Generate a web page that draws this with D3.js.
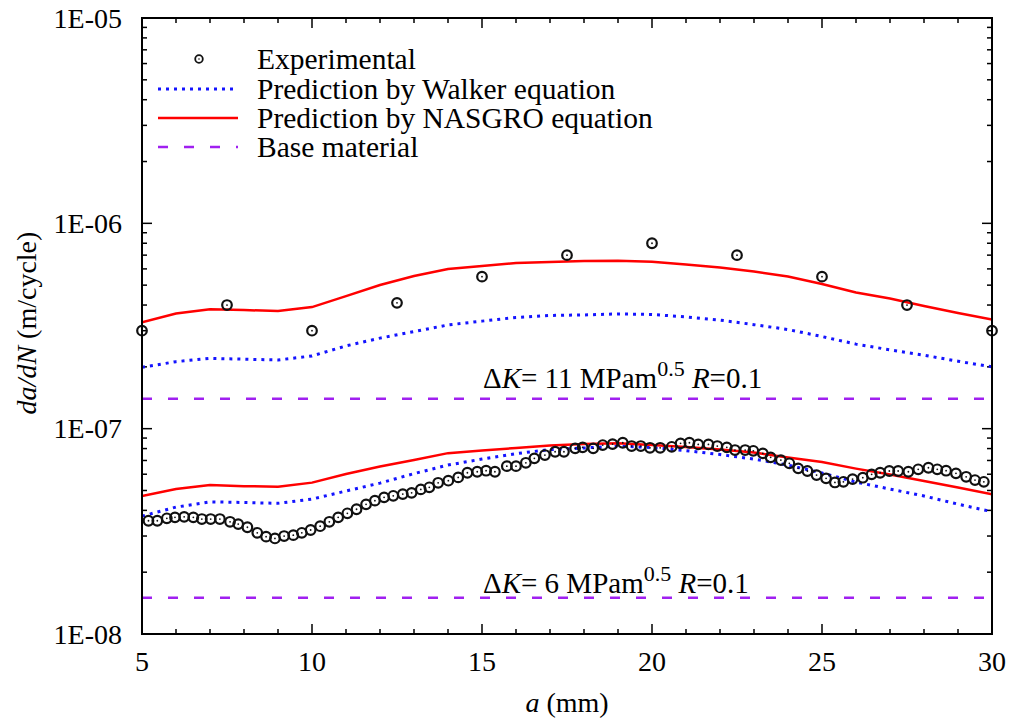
<!DOCTYPE html>
<html lang="en">
<head>
<meta charset="UTF-8">
<title>da/dN vs a</title>
<style>
  body { margin: 0; background: #fff; }
  svg text { font-family: "Liberation Serif", "Times New Roman", serif; fill: #000; }
</style>
</head>
<body>
<svg id="chart" width="1014" height="726"></svg>
<script src="https://d3js.org/d3.v7.min.js"></script>
<script>
// ---- data ----
const xTickValues = [5, 10, 15, 20, 25, 30];
const yTickValues = [1e-5, 1e-6, 1e-7, 1e-8];
const yTickLabels = ["1E-05", "1E-06", "1E-07", "1E-08"];

const legendLabels = ["Experimental", "Prediction by Walker equation",
                      "Prediction by NASGRO equation", "Base material"];

// predictions are given every 1 mm
const predA = [5, 6, 7, 8, 9, 10, 11, 12, 13, 14, 15, 16, 17, 18, 19, 20,
               21, 22, 23, 24, 25, 26, 27, 28, 29, 30];

// dK = 11 MPa m^0.5
const hiExpA = [5, 7.5, 10, 12.5, 15, 17.5, 20, 22.5, 25, 27.5, 30];
const hiExpRate = [3.0e-7, 4.0e-7, 3.0e-7, 4.1e-7, 5.5e-7, 7.0e-7, 8.0e-7,
                   7.0e-7, 5.5e-7, 4.0e-7, 3.0e-7];
const hiWalker = [1.99e-7, 2.12e-7, 2.20e-7, 2.18e-7, 2.16e-7, 2.26e-7, 2.53e-7,
                  2.76e-7, 2.97e-7, 3.20e-7, 3.34e-7, 3.48e-7, 3.56e-7, 3.58e-7,
                  3.62e-7, 3.60e-7, 3.50e-7, 3.38e-7, 3.21e-7, 3.04e-7, 2.81e-7,
                  2.58e-7, 2.42e-7, 2.28e-7, 2.13e-7, 2.00e-7];
const hiNasgro = [3.30e-7, 3.64e-7, 3.82e-7, 3.78e-7, 3.74e-7, 3.91e-7, 4.42e-7,
                  5.01e-7, 5.54e-7, 5.99e-7, 6.19e-7, 6.41e-7, 6.48e-7, 6.55e-7,
                  6.57e-7, 6.50e-7, 6.30e-7, 6.09e-7, 5.82e-7, 5.51e-7, 5.06e-7,
                  4.60e-7, 4.30e-7, 3.96e-7, 3.66e-7, 3.40e-7];
const hiBase = 1.4e-7;

// dK = 6 MPa m^0.5
const loExpA = [5.19, 5.45, 5.73, 5.97, 6.24, 6.51, 6.76, 7.02, 7.29, 7.59, 7.83,
                8.10, 8.39, 8.65, 8.91, 9.18, 9.45, 9.70, 9.96, 10.24, 10.51, 10.77,
                11.04, 11.31, 11.59, 11.85, 12.12, 12.39, 12.67, 12.93, 13.20, 13.45,
                13.71, 14.01, 14.30, 14.57, 14.86, 15.12, 15.38, 15.73, 16.00, 16.29,
                16.54, 16.85, 17.15, 17.41, 17.74, 17.96, 18.27, 18.55, 18.84, 19.14,
                19.40, 19.67, 19.94, 20.24, 20.58, 20.84, 21.10, 21.36, 21.66, 21.92,
                22.20, 22.44, 22.74, 22.98, 23.26, 23.49, 23.79, 24.04, 24.30, 24.57,
                24.84, 25.12, 25.38, 25.63, 25.90, 26.20, 26.46, 26.71, 26.98, 27.24,
                27.54, 27.83, 28.13, 28.39, 28.65, 28.94, 29.24, 29.50, 29.76];
const loExpRate = [3.56e-8, 3.56e-8, 3.66e-8, 3.70e-8, 3.72e-8, 3.70e-8, 3.63e-8,
                   3.63e-8, 3.63e-8, 3.52e-8, 3.43e-8, 3.31e-8, 3.11e-8, 2.98e-8,
                   2.92e-8, 3.00e-8, 3.03e-8, 3.11e-8, 3.21e-8, 3.35e-8, 3.52e-8,
                   3.70e-8, 3.87e-8, 4.05e-8, 4.28e-8, 4.46e-8, 4.63e-8, 4.71e-8,
                   4.80e-8, 4.87e-8, 5.06e-8, 5.18e-8, 5.45e-8, 5.58e-8, 5.79e-8,
                   6.10e-8, 6.17e-8, 6.24e-8, 6.17e-8, 6.57e-8, 6.57e-8, 6.82e-8,
                   7.17e-8, 7.44e-8, 7.72e-8, 7.72e-8, 8.02e-8, 8.11e-8, 8.02e-8,
                   8.32e-8, 8.41e-8, 8.54e-8, 8.23e-8, 8.23e-8, 8.07e-8, 8.07e-8,
                   8.16e-8, 8.48e-8, 8.54e-8, 8.38e-8, 8.38e-8, 8.23e-8, 8.11e-8,
                   7.87e-8, 7.87e-8, 7.80e-8, 7.58e-8, 7.25e-8, 7.03e-8, 6.78e-8,
                   6.41e-8, 6.22e-8, 5.94e-8, 5.73e-8, 5.47e-8, 5.51e-8, 5.68e-8,
                   5.77e-8, 5.99e-8, 6.10e-8, 6.22e-8, 6.22e-8, 6.17e-8, 6.34e-8,
                   6.45e-8, 6.34e-8, 6.24e-8, 6.06e-8, 5.83e-8, 5.62e-8, 5.51e-8];
const loWalker = [3.75e-8, 4.15e-8, 4.40e-8, 4.37e-8, 4.33e-8, 4.54e-8, 4.97e-8,
                  5.43e-8, 6.04e-8, 6.65e-8, 7.11e-8, 7.56e-8, 7.91e-8, 8.05e-8,
                  8.23e-8, 8.09e-8, 7.82e-8, 7.48e-8, 7.11e-8, 6.65e-8, 6.08e-8,
                  5.49e-8, 5.08e-8, 4.70e-8, 4.29e-8, 3.94e-8];
const loNasgro = [4.70e-8, 5.08e-8, 5.31e-8, 5.25e-8, 5.22e-8, 5.46e-8, 6.01e-8,
                  6.54e-8, 7.03e-8, 7.60e-8, 7.82e-8, 8.05e-8, 8.27e-8, 8.41e-8,
                  8.48e-8, 8.32e-8, 8.14e-8, 7.91e-8, 7.65e-8, 7.23e-8, 6.88e-8,
                  6.39e-8, 5.98e-8, 5.56e-8, 5.17e-8, 4.79e-8];
const loBase = 1.5e-8;

// ---- layout ----
const plotL = 142, plotR = 992, plotT = 18, plotB = 634;
const svg = d3.select("#chart");

const x = d3.scaleLinear().domain([5, 30]).range([plotL, plotR]);
const y = d3.scaleLog().domain([1e-8, 1e-5]).range([plotB, plotT]);

const blue = "#1414ff", red = "#ff0000", purple = "#a020f0";

// ticks (inward, mirrored)
const ticks = svg.append("g").attr("stroke", "#000").attr("stroke-width", 1.5);
d3.range(5, 31, 1).forEach(v => {
  const len = v % 5 === 0 ? 10 : 5;
  ticks.append("line").attr("x1", x(v)).attr("x2", x(v)).attr("y1", plotB).attr("y2", plotB - len);
  ticks.append("line").attr("x1", x(v)).attr("x2", x(v)).attr("y1", plotT).attr("y2", plotT + len);
});
y.ticks().forEach(v => {
  const m = Math.round(v / Math.pow(10, Math.floor(Math.log10(v) + 1e-9)));
  const len = m === 1 ? 10 : 5;
  ticks.append("line").attr("x1", plotL).attr("x2", plotL + len).attr("y1", y(v)).attr("y2", y(v));
  ticks.append("line").attr("x1", plotR).attr("x2", plotR - len).attr("y1", y(v)).attr("y2", y(v));
});

// tick labels
svg.append("g").selectAll("text").data(xTickValues).join("text")
  .attr("x", d => x(d)).attr("y", 671).attr("text-anchor", "middle")
  .attr("font-size", 28).text(d => d);
svg.append("g").selectAll("text").data(yTickValues).join("text")
  .attr("x", 122).attr("y", d => y(d)).attr("dy", "0.35em").attr("text-anchor", "end")
  .attr("font-size", 28).text((d, i) => yTickLabels[i]);

// axis titles
const xt = svg.append("text").attr("x", 567).attr("y", 712).attr("text-anchor", "middle").attr("font-size", 28);
xt.append("tspan").attr("font-style", "italic").text("a");
xt.append("tspan").text(" (mm)");
const yt = svg.append("text").attr("transform", "translate(36,323) rotate(-90)")
  .attr("text-anchor", "middle").attr("font-size", 28);
yt.append("tspan").attr("font-style", "italic").text("da/dN");
yt.append("tspan").text(" (m/cycle)");

// plot contents
svg.append("clipPath").attr("id", "plotclip").append("rect")
  .attr("x", plotL).attr("y", plotT).attr("width", plotR - plotL).attr("height", plotB - plotT);
const plot = svg.append("g").attr("clip-path", "url(#plotclip)");

const line = d3.line().x(d => x(d[0])).y(d => y(d[1]));

// base material
[hiBase, loBase].forEach(b => {
  plot.append("line").attr("x1", x(5)).attr("x2", x(30)).attr("y1", y(b)).attr("y2", y(b))
    .attr("stroke", purple).attr("stroke-width", 2.5).attr("stroke-dasharray", "10,16");
});

// walker (dotted blue)
[hiWalker, loWalker].forEach(s => {
  plot.append("path").attr("d", line(predA.map((a, i) => [a, s[i]])))
    .attr("fill", "none").attr("stroke", blue).attr("stroke-width", 3)
    .attr("stroke-dasharray", "3,5");
});

// nasgro (solid red)
[hiNasgro, loNasgro].forEach(s => {
  plot.append("path").attr("d", line(predA.map((a, i) => [a, s[i]])))
    .attr("fill", "none").attr("stroke", red).attr("stroke-width", 2.5);
});

// experimental points
function drawPoints(as, rates) {
  const g = svg.append("g");
  as.forEach((a, i) => {
    g.append("circle").attr("cx", x(a)).attr("cy", y(rates[i])).attr("r", 4.8)
      .attr("fill", "none").attr("stroke", "#111").attr("stroke-width", 2.2);
    g.append("circle").attr("cx", x(a)).attr("cy", y(rates[i])).attr("r", 0.9).attr("fill", "#111");
  });
}
drawPoints(hiExpA, hiExpRate);
drawPoints(loExpA, loExpRate);

// frame
svg.append("rect").attr("x", plotL).attr("y", plotT).attr("width", plotR - plotL).attr("height", plotB - plotT)
  .attr("fill", "none").attr("stroke", "#000").attr("stroke-width", 2);

// annotations
function annot(yBase, k) {
  const t = svg.append("text").attr("x", 483).attr("y", yBase).attr("font-size", 29);
  t.append("tspan").text("Δ");
  t.append("tspan").attr("font-style", "italic").text("K");
  t.append("tspan").text("= " + k + " MPam");
  t.append("tspan").attr("font-size", 22).attr("dy", -12).text("0.5");
  t.append("tspan").attr("dy", 12).text(" ");
  t.append("tspan").attr("font-style", "italic").text("R");
  t.append("tspan").text("=0.1");
}
annot(388, 11);
annot(593, 6);

// legend
const legY = [59, 89, 118, 147];
const lg = svg.append("g");
legendLabels.forEach((t, i) => {
  lg.append("text").attr("x", 257).attr("y", legY[i] + 10).attr("font-size", 29.5).text(t);
});
lg.append("circle").attr("cx", 199).attr("cy", legY[0]).attr("r", 3.8)
  .attr("fill", "none").attr("stroke", "#111").attr("stroke-width", 1.8);
lg.append("circle").attr("cx", 199).attr("cy", legY[0]).attr("r", 0.8).attr("fill", "#111");
lg.append("line").attr("x1", 158).attr("x2", 238).attr("y1", legY[1]).attr("y2", legY[1])
  .attr("stroke", blue).attr("stroke-width", 3).attr("stroke-dasharray", "3,5");
lg.append("line").attr("x1", 158).attr("x2", 238).attr("y1", legY[2]).attr("y2", legY[2])
  .attr("stroke", red).attr("stroke-width", 2.5);
lg.append("line").attr("x1", 158).attr("x2", 238).attr("y1", legY[3]).attr("y2", legY[3])
  .attr("stroke", purple).attr("stroke-width", 2.5).attr("stroke-dasharray", "10,16");
</script>
</body>
</html>
